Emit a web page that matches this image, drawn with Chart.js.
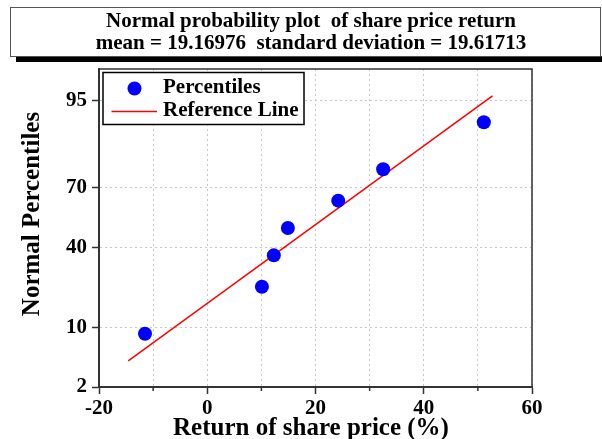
<!DOCTYPE html>
<html>
<head>
<meta charset="utf-8">
<script src="https://cdn.jsdelivr.net/npm/chart.js@4.4.1/dist/chart.umd.min.js"></script>
<style>
    html, body { margin: 0; padding: 0; background: #fff; }
    #wrap { width: 602px; height: 439px; position: relative; }
</style>
</head>
<body>
<div id="wrap"><canvas id="probChart" width="602" height="439"></canvas></div>
<script>
// data
const returns = [-11.5, 10.1, 12.3, 14.9, 24.2, 32.5, 51.1];
const percentiles = [8.6, 22.4, 36.2, 50.0, 63.8, 77.6, 91.4];
const refLineX = [-14.6, 52.7];
const refLinePct = [4.3, 95.6];
const yTickValues = [2, 10, 40, 70, 95];
const titleLines = [
    'Normal probability plot  of share price return',
    'mean = 19.16976  standard deviation = 19.61713'
];

const serif = '"Liberation Serif", "Times New Roman", serif';

// inverse of the normal CDF, used by the probability axis
function probit(p) {
    const a = [-3.969683028665376e+01, 2.209460984245205e+02, -2.759285104469687e+02, 1.383577518672690e+02, -3.066479806614716e+01, 2.506628277459239e+00];
    const b = [-5.447609879822406e+01, 1.615858368580409e+02, -1.556989798598866e+02, 6.680131188771972e+01, -1.328068155288572e+01];
    const c = [-7.784894002430293e-03, -3.223964580411365e-01, -2.400758277161838e+00, -2.549732539343734e+00, 4.374664141464968e+00, 2.938163982698783e+00];
    const d = [7.784695709041462e-03, 3.224671290700398e-01, 2.445134137142996e+00, 3.754408661907416e+00];
    const pl = 0.02425;
    if (p < pl) {
        const q = Math.sqrt(-2 * Math.log(p));
        return (((((c[0]*q+c[1])*q+c[2])*q+c[3])*q+c[4])*q+c[5]) / ((((d[0]*q+d[1])*q+d[2])*q+d[3])*q+1);
    }
    if (p > 1 - pl) {
        const q = Math.sqrt(-2 * Math.log(1 - p));
        return -(((((c[0]*q+c[1])*q+c[2])*q+c[3])*q+c[4])*q+c[5]) / ((((d[0]*q+d[1])*q+d[2])*q+d[3])*q+1);
    }
    const q = p - 0.5, r = q * q;
    return (((((a[0]*r+a[1])*r+a[2])*r+a[3])*r+a[4])*r+a[5])*q / (((((b[0]*r+b[1])*r+b[2])*r+b[3])*r+b[4])*r+1);
}

// normal probability scale (values in percent)
class ProbitScale extends Chart.Scale {
    determineDataLimits() {
        this.min = this.options.min;
        this.max = this.options.max;
    }
    buildTicks() {
        return yTickValues.map(v => ({ value: v }));
    }
    getLabelForValue(v) {
        return String(v);
    }
    configure() {
        super.configure();
        this._zMin = probit(this.min / 100);
        this._zRange = probit(this.max / 100) - this._zMin;
    }
    getPixelForValue(v) {
        return this.getPixelForDecimal((probit(v / 100) - this._zMin) / this._zRange);
    }
    getValueForPixel(px) {
        return this.min + (this.max - this.min) * this.getDecimalForPixel(px);
    }
}
ProbitScale.id = 'probit';
ProbitScale.defaults = {};
Chart.register(ProbitScale);

const decorPlugin = {
    id: 'decor',
    beforeDraw(chart) {
        const ctx = chart.ctx;
        ctx.save();
        ctx.fillStyle = '#fff';
        ctx.fillRect(0, 0, chart.width, chart.height);
        // title box with shadow
        ctx.fillStyle = '#000';
        ctx.fillRect(16, 56, 586, 6);
        ctx.fillStyle = '#fff';
        ctx.fillRect(11, 7.5, 589, 49);
        ctx.strokeStyle = '#555';
        ctx.lineWidth = 1;
        ctx.strokeRect(10.5, 7.5, 590, 49);
        ctx.fillStyle = '#000';
        ctx.font = 'bold 21px ' + serif;
        ctx.textAlign = 'center';
        ctx.textBaseline = 'alphabetic';
        ctx.fillText(titleLines[0], 311, 27);
        ctx.fillText(titleLines[1], 311, 49);
        ctx.restore();
    },
    afterDraw(chart) {
        const ctx = chart.ctx;
        const area = chart.chartArea;
        const xs = chart.scales.x;
        ctx.save();
        // top and right frame
        ctx.strokeStyle = '#333';
        ctx.lineWidth = 1.5;
        ctx.beginPath();
        ctx.moveTo(area.left, area.top);
        ctx.lineTo(area.right, area.top);
        ctx.lineTo(area.right, area.bottom);
        ctx.stroke();
        // minor ticks on x axis
        [-10, 10, 30, 50].forEach(v => {
            const px = xs.getPixelForValue(v);
            ctx.beginPath();
            ctx.moveTo(px, area.bottom);
            ctx.lineTo(px, area.bottom + 4);
            ctx.stroke();
        });
        // axis titles
        ctx.fillStyle = '#000';
        ctx.font = 'bold 25px ' + serif;
        ctx.textAlign = 'center';
        ctx.textBaseline = 'alphabetic';
        ctx.fillText('Return of share price (%)', 311, 435);
        ctx.textBaseline = 'middle';
        ctx.translate(33, 214);
        ctx.rotate(-Math.PI / 2);
        ctx.fillText('Normal Percentiles', 0, 0);
        ctx.restore();

        // legend
        ctx.save();
        ctx.fillStyle = '#fff';
        ctx.fillRect(103, 72.5, 201, 52);
        ctx.strokeStyle = '#000';
        ctx.lineWidth = 1.5;
        ctx.strokeRect(103, 72.5, 201, 52);
        ctx.fillStyle = '#0000ff';
        ctx.beginPath();
        ctx.arc(134.5, 88.5, 7, 0, Math.PI * 2);
        ctx.fill();
        ctx.strokeStyle = '#ff0000';
        ctx.lineWidth = 1.5;
        ctx.beginPath();
        ctx.moveTo(111.5, 111.5);
        ctx.lineTo(157, 111.5);
        ctx.stroke();
        ctx.fillStyle = '#000';
        ctx.font = 'bold 21px ' + serif;
        ctx.textAlign = 'left';
        ctx.textBaseline = 'middle';
        ctx.fillText(chart.data.datasets[0].label, 163, 88);
        ctx.fillText(chart.data.datasets[1].label, 163, 111);
        ctx.restore();
    }
};

const ctx = document.getElementById('probChart').getContext('2d');
const probChart = new Chart(ctx, {
    type: 'scatter',
    data: {
        datasets: [{
            label: 'Percentiles',
            data: returns.map((x, i) => ({ x: x, y: percentiles[i] })),
            backgroundColor: '#0000ff',
            borderWidth: 0,
            pointRadius: 7,
            order: 1
        }, {
            label: 'Reference Line',
            data: refLineX.map((x, i) => ({ x: x, y: refLinePct[i] })),
            showLine: true,
            borderColor: '#ff0000',
            borderWidth: 1.5,
            pointRadius: 0,
            order: 2
        }]
    },
    options: {
        responsive: false,
        animation: false,
        events: [],
        layout: { padding: { top: 69, right: 70, left: 0, bottom: 0 } },
        plugins: {
            legend: { display: false },
            title: { display: false },
            tooltip: { enabled: false }
        },
        scales: {
            x: {
                type: 'linear',
                min: -20,
                max: 60,
                afterFit: function(scale) { scale.height = 52; },
                ticks: {
                    stepSize: 10,
                    color: '#000',
                    font: { family: serif, size: 21, weight: 'bold' },
                    padding: 2,
                    maxRotation: 0,
                    autoSkip: false,
                    callback: function(value) { return value % 20 === 0 ? value : ''; }
                },
                grid: {
                    color: '#c8c8c8',
                    lineWidth: 1,
                    tickLength: 7,
                    tickWidth: 1.5,
                    tickColor: function(c) { return c.tick && c.tick.value % 20 === 0 ? '#333' : 'rgba(0,0,0,0)'; }
                },
                border: { color: '#333', width: 2, dash: [2, 3] }
            },
            y: {
                type: 'probit',
                position: 'left',
                min: 2,
                max: 98,
                afterFit: function(scale) { scale.width = 99; },
                ticks: {
                    color: '#000',
                    font: { family: serif, size: 21, weight: 'bold' },
                    padding: 5
                },
                grid: {
                    color: '#c8c8c8',
                    lineWidth: 1,
                    tickLength: 7,
                    tickWidth: 1.5,
                    tickColor: '#333'
                },
                border: { color: '#333', width: 2, dash: [2, 3] }
            }
        }
    },
    plugins: [decorPlugin]
});
</script>
</body>
</html>
